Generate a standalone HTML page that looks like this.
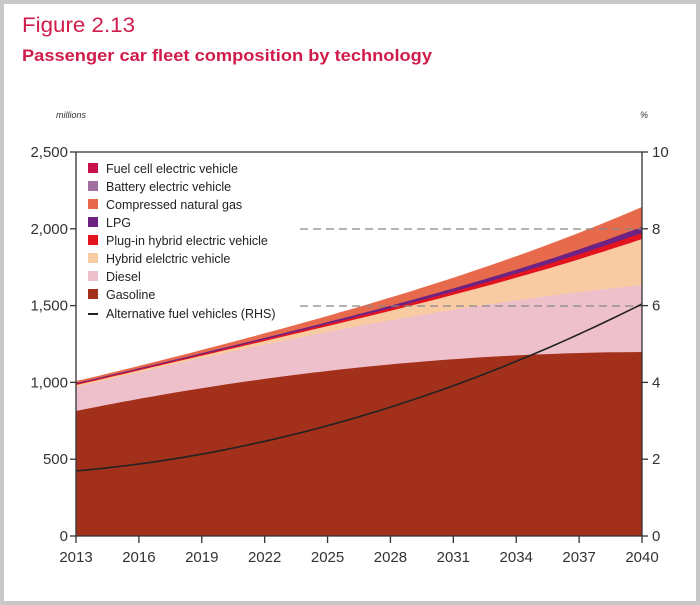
<!DOCTYPE html>
<html><head><meta charset="utf-8"><style>
html,body{margin:0;padding:0;background:#fff}
#w{position:relative;width:700px;height:605px;box-sizing:border-box;border:4px solid #c8c8c8;background:#fff;font-family:"Liberation Sans",sans-serif;overflow:hidden}
</style></head><body><div id="w">
<svg id="s" width="700" height="605" style="position:absolute;left:-4px;top:-4px" font-family="Liberation Sans, sans-serif">
<text x="22" y="32" font-size="21" fill="#d01c4a" textLength="113" lengthAdjust="spacingAndGlyphs">Figure 2.13</text>
<text x="22" y="61" font-size="17" font-weight="bold" fill="#d01c4a" textLength="410" lengthAdjust="spacingAndGlyphs">Passenger car fleet composition by technology</text>
<text x="56" y="118" font-size="9" font-style="italic" fill="#333">millions</text>
<text x="640" y="118" font-size="9" font-style="italic" fill="#333">%</text>
<g id="areas"></g>
<line x1="300" y1="229" x2="642" y2="229" stroke="#888" stroke-dasharray="8,5" stroke-width="1.2"/>
<line x1="300" y1="306" x2="642" y2="306" stroke="#888" stroke-dasharray="8,5" stroke-width="1.2"/>
<path id="alt" fill="none" stroke="#222" stroke-width="1.6"/>
<g stroke="#333" stroke-width="1.3">
<line x1="76" y1="152" x2="76" y2="536"/><line x1="642" y1="152" x2="642" y2="536"/>
<line x1="76" y1="152" x2="642" y2="152"/><line x1="76" y1="536" x2="642" y2="536"/>
</g>
<g id="ticks" stroke="#333" stroke-width="1.3"></g>
<g id="labels" font-size="15" fill="#333"></g>
<g font-size="12.5" fill="#222">
<rect x="88" y="163" width="10" height="10" fill="#c8104a"/><text x="106" y="173">Fuel cell electric vehicle</text>
<rect x="88" y="181" width="10" height="10" fill="#a070a0"/><text x="106" y="191">Battery electric vehicle</text>
<rect x="88" y="199" width="10" height="10" fill="#e86a4c"/><text x="106" y="209">Compressed natural gas</text>
<rect x="88" y="217" width="10" height="10" fill="#6e2382"/><text x="106" y="227">LPG</text>
<rect x="88" y="235" width="10" height="10" fill="#e4141f"/><text x="106" y="245">Plug-in hybrid electric vehicle</text>
<rect x="88" y="253" width="10" height="10" fill="#f8cba3"/><text x="106" y="263">Hybrid elelctric vehicle</text>
<rect x="88" y="271" width="10" height="10" fill="#eec0cc"/><text x="106" y="281">Diesel</text>
<rect x="88" y="289" width="10" height="10" fill="#a3301b"/><text x="106" y="299">Gasoline</text>
<line x1="88" y1="314" x2="98" y2="314" stroke="#222" stroke-width="2"/><text x="106" y="318">Alternative fuel vehicles (RHS)</text>
</g>
</svg>
<script>
(function(){
var ns="http://www.w3.org/2000/svg",s=document.getElementById('s');
var x0=76,x1=642,N=60;
var layers=[[],[],[],[],[],[]];
for(var i=0;i<=N;i++){var t=i/N;
var g=411-115*t+56*t*t;var d=g-(24+43*Math.pow(t,1.3));var h=d-(2+44*Math.pow(t,3));
var p=h-(1+5*t*t);var l=p-(1+5*t*t);var c=l-(2+18*Math.pow(t,1.8));
layers[0].push(g);layers[1].push(d);layers[2].push(h);layers[3].push(p);layers[4].push(l);layers[5].push(c);}
var cols=["#a3301b","#eec0cc","#f8cba3","#e4141f","#6e2382","#e86a4c"];
var A=document.getElementById('areas');
for(var k=5;k>=0;k--){var dd="M"+x0+",536";
for(var i=0;i<=N;i++){dd+=" L"+(x0+(x1-x0)*i/N).toFixed(1)+","+layers[k][i].toFixed(1);}
dd+=" L"+x1+",536 Z";var e=document.createElementNS(ns,'path');e.setAttribute('d',dd);e.setAttribute('fill',cols[k]);A.appendChild(e);}
var ad="";for(var i=0;i<=N;i++){var t=i/N;var y=471-(50*t+117*t*t);ad+=(i?" L":"M")+(x0+(x1-x0)*t).toFixed(1)+","+y.toFixed(1);}
document.getElementById('alt').setAttribute('d',ad);
var T=document.getElementById('ticks'),L=document.getElementById('labels');
function ln(a,b,c,d){var e=document.createElementNS(ns,'line');e.setAttribute('x1',a);e.setAttribute('y1',b);e.setAttribute('x2',c);e.setAttribute('y2',d);T.appendChild(e);}
function tx(x,y,s,anc){var e=document.createElementNS(ns,'text');e.setAttribute('x',x);e.setAttribute('y',y);e.setAttribute('text-anchor',anc);e.textContent=s;L.appendChild(e);}
var lv=["0","500","1,000","1,500","2,000","2,500"];
for(var j=0;j<=5;j++){var y=536-j*76.8;ln(70,y,76,y);ln(642,y,648,y);tx(68,y+5,lv[j],"end");tx(652,y+5,String(j*2),"start");}
for(var j=0;j<=9;j++){var x=x0+(x1-x0)*j/9;ln(x,536,x,543);tx(x,562,String(2013+3*j),"middle");}
})();
</script>
</div></body></html>
